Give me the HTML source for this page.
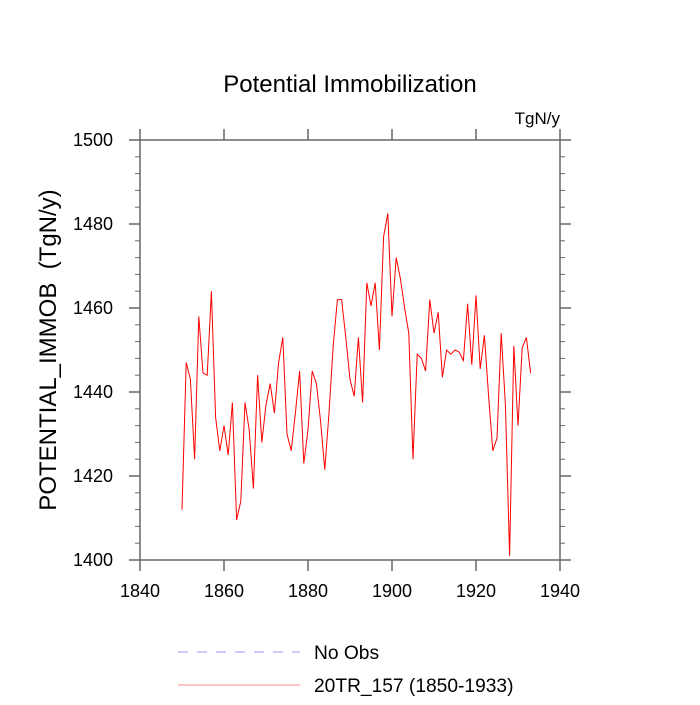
<!DOCTYPE html>
<html><head><meta charset="utf-8"><style>
body{margin:0;background:#fff;}
svg text{font-family:"Liberation Sans",Arial,sans-serif;}
</style></head><body>
<svg id="chart" width="700" height="700" viewBox="0 0 700 700">
<text x="350" y="92" text-anchor="middle" font-size="24">Potential Immobilization</text>
<text x="560" y="124" text-anchor="end" font-size="17">TgN/y</text>
<text transform="translate(56,350) rotate(-90)" text-anchor="middle" font-size="24" xml:space="preserve" style="white-space:pre">POTENTIAL_IMMOB  (TgN/y)</text>
<g id="axes"></g>
<polyline id="series" fill="none" stroke="#ff0000" stroke-width="1"/>
<line x1="178" y1="652" x2="300" y2="652" stroke="#9999ff" stroke-width="1" stroke-dasharray="10,9"/>
<text x="314" y="659" font-size="19.2">No Obs</text>
<line x1="178" y1="685" x2="300" y2="685" stroke="#ff8888" stroke-width="1"/>
<text x="314" y="692" font-size="19.2">20TR_157 (1850-1933)</text>
</svg>
<script>
const startYear = 1850;
const values = [1412,1447,1443,1424,1458,1444.5,1444,1464,1434,1426,1432,1425,1437.5,1409.5,1414,1437.5,1431,1417,1444,1428,1437,1442,1435,1447,1453,1430,1426,1435,1445,1423,1431,1445,1442,1433,1421.5,1435,1451,1462,1462,1453,1443,1439,1453,1437.5,1466,1460.5,1466,1450,1477,1482.5,1458,1472,1467,1460,1454,1424,1449,1448,1445,1462,1454,1459,1443.5,1450,1449,1450,1449.5,1447.5,1461,1446.5,1463,1445.5,1453.5,1439,1426,1429,1454,1437,1401,1451,1432,1450.5,1453,1444.5];
const xTicks = [1840,1860,1880,1900,1920,1940];
const yTicks = [1400,1420,1440,1460,1480,1500];
const X0=140,X1=560,Y0=140,Y1=560;
function xs(v){return X0+(v-1840)/100*(X1-X0);}
function ys(v){return Y1-(v-1400)/100*(Y1-Y0);}
const ns="http://www.w3.org/2000/svg";
const axes=document.getElementById('axes');
function ln(x1,y1,x2,y2,name,w){const l=document.createElementNS(ns,'line');l.setAttribute('x1',x1);l.setAttribute('y1',y1);l.setAttribute('x2',x2);l.setAttribute('y2',y2);l.setAttribute('stroke','#666');l.setAttribute('stroke-width',w||1.5);


axes.appendChild(l);}
function tx(x,y,s,anchor,name){const t=document.createElementNS(ns,'text');t.setAttribute('x',x);t.setAttribute('y',y);t.setAttribute('font-size','18');t.setAttribute('text-anchor',anchor);t.textContent=s;


axes.appendChild(t);}
const fr=document.createElementNS(ns,'rect');
fr.setAttribute('x',X0);fr.setAttribute('y',Y0);fr.setAttribute('width',X1-X0);fr.setAttribute('height',Y1-Y0);fr.setAttribute('fill','none');fr.setAttribute('stroke','#666');fr.setAttribute('stroke-width','1.5');


axes.appendChild(fr);
xTicks.forEach(v=>{const x=xs(v);ln(x,Y1,x,Y1+11,'x-tick');ln(x,Y0,x,Y0-11,'x-tick-top');});
for(let v=1400;v<=1500;v+=4){const y=ys(v);const maj=(v%20===0);const L=maj?11:5;
ln(X0,y,X0-L,y,'y-tick',maj?1.5:1);ln(X1,y,X1+L,y,'y-tick-right',maj?1.5:1);}
xTicks.forEach(v=>tx(xs(v),Y1+37,String(v),'middle','x-tick-label'));
yTicks.forEach(v=>tx(X0-27,ys(v)+6,String(v),'end','y-tick-label'));
document.getElementById('series').setAttribute('points',values.map((v,i)=>xs(startYear+i)+','+ys(v)).join(' '));
</script>
</body></html>
